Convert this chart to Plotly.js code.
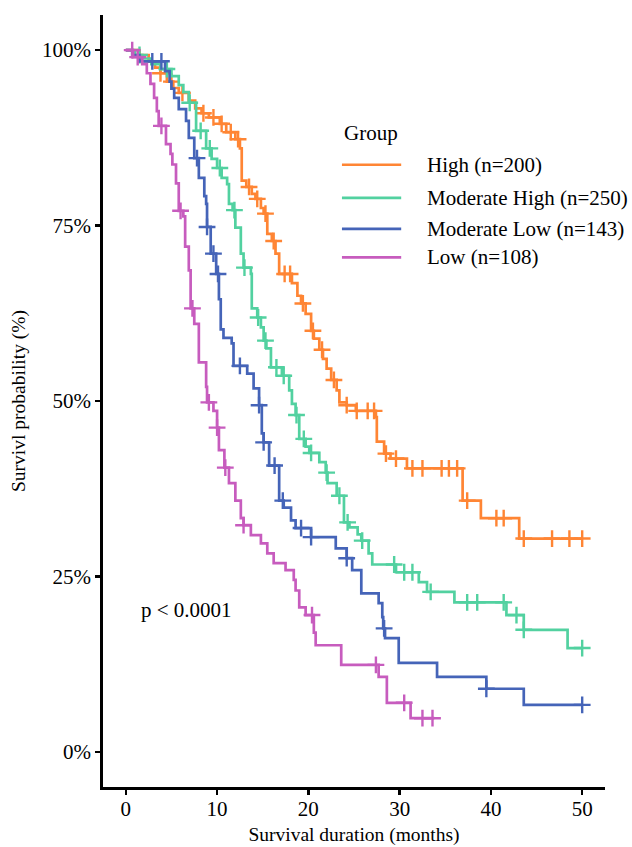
<!DOCTYPE html>
<html>
<head>
<meta charset="utf-8">
<script src="https://cdn.plot.ly/plotly-3.0.1.min.js"></script>
<style>html,body{margin:0;padding:0;background:#fff;}#chart{width:632px;height:847px;}</style>
</head>
<body>
<div id="chart"></div>
<script>
// ---- Data ----
const groupNames = ["High (n=200)", "Moderate High (n=250)", "Moderate Low (n=143)", "Low (n=108)"];
const groupColors = ["#FF8534", "#52D1A0", "#4564B8", "#C75CBE"];

// event times (months) and survival (%) after each drop
const highTimes = [0, 1.5, 2.5, 3.2, 3.8, 4.5, 5.2, 5.8, 6.9, 7.6, 8.3, 9.1, 10.3, 11.0, 12.0, 12.5, 12.7, 13.2, 13.8, 14.2, 14.8, 15.1, 15.5, 16.0, 16.4, 16.8, 18.2, 18.8, 19.2, 19.7, 20.3, 20.6, 21.2, 21.6, 22.0, 22.5, 23.1, 23.4, 24.2, 25.2, 27.4, 27.5, 28.3, 29.0, 30.8, 36.9, 38.9, 43.1];
const highSurv  = [100, 99.3, 98.4, 97.5, 96.7, 95.5, 94.6, 93.9, 92.8, 91.7, 91.0, 90.4, 89.5, 88.3, 87.3, 86.0, 81.4, 80.5, 79.5, 78.8, 77.5, 76.7, 73.8, 72.8, 71.0, 68.1, 66.8, 65.0, 63.9, 62.4, 60.0, 58.9, 57.3, 56.0, 54.6, 53.0, 51.5, 49.8, 49.4, 48.6, 47.7, 44.2, 42.5, 41.8, 40.4, 35.8, 33.3, 30.4];
const highEnd = 50;
const highCens = [3.8, 5.0, 6.2, 8.5, 9.6, 10.5, 11.5, 12.3, 13.5, 14.4, 15.3, 16.2, 17.4, 18.0, 19.4, 20.5, 21.5, 22.8, 24.2, 25.3, 26.5, 27.2, 28.5, 29.6, 31.4, 32.5, 34.6, 35.4, 36.3, 37.4, 40.6, 41.4, 43.6, 46.7, 48.6, 50];

const modHighTimes = [0, 1.0, 1.8, 2.8, 3.8, 5.0, 5.8, 6.3, 6.9, 7.7, 8.8, 9.4, 10.0, 10.5, 11.1, 11.3, 11.7, 12.0, 12.6, 12.9, 13.7, 13.8, 14.4, 14.8, 15.1, 15.4, 15.9, 17.1, 17.9, 18.2, 18.6, 19.0, 19.7, 20.1, 21.2, 21.9, 22.1, 23.1, 23.9, 24.5, 25.4, 25.8, 26.6, 27.0, 29.6, 32.1, 33.0, 36.0, 41.7, 43.6, 48.4];
const modHighSurv  = [100, 99.3, 98.8, 98.0, 97.3, 96.3, 95.0, 94.0, 92.5, 88.5, 86.0, 84.5, 83.2, 81.8, 80.9, 78.1, 77.2, 74.7, 71.0, 69.0, 68.1, 63.2, 61.9, 60.5, 58.6, 57.5, 54.8, 53.6, 51.5, 49.6, 48.0, 44.6, 43.5, 42.6, 41.3, 39.8, 38.3, 36.5, 32.7, 32.0, 31.0, 30.1, 28.3, 26.7, 25.6, 24.2, 22.8, 21.3, 19.5, 17.4, 14.8];
const modHighEnd = 50;
const modHighCens = [1.5, 4.5, 7.0, 8.2, 9.2, 10.3, 11.9, 13.0, 14.5, 15.3, 16.5, 17.3, 18.7, 19.5, 20.3, 22.0, 23.4, 24.3, 25.9, 29.4, 30.5, 31.4, 33.4, 37.4, 38.5, 41.4, 42.8, 43.6, 50];

const modLowTimes = [0, 0.7, 1.5, 4.3, 4.8, 5.0, 5.3, 5.8, 6.6, 6.9, 7.5, 8.0, 8.6, 8.8, 8.9, 9.3, 9.9, 10.2, 10.4, 10.7, 11.6, 11.8, 13.3, 14.0, 14.6, 14.9, 15.1, 15.7, 16.8, 17.3, 18.1, 18.6, 20.3, 23.0, 24.2, 24.8, 25.8, 27.7, 28.1, 28.2, 28.4, 29.9, 34.1, 39.5, 43.6];
const modLowSurv  = [100, 99.3, 98.4, 97.0, 95.5, 94.5, 93.2, 91.6, 89.9, 87.5, 84.6, 81.8, 79.2, 78.1, 74.8, 71.0, 68.1, 64.5, 60.2, 59.0, 58.2, 55.0, 53.9, 51.8, 49.4, 45.4, 44.1, 40.8, 35.8, 34.8, 33.0, 31.9, 30.6, 29.0, 27.6, 25.9, 22.6, 21.2, 19.2, 17.6, 16.2, 12.7, 10.7, 9.0, 6.7];
const modLowEnd = 50;
const modLowCens = [2.9, 3.9, 7.8, 8.9, 9.6, 10.1, 12.5, 14.6, 15.1, 16.3, 17.2, 19.2, 20.3, 24.2, 28.3, 39.5, 50];

const lowTimes = [0, 0.8, 1.8, 2.3, 2.7, 3.1, 3.4, 3.6, 4.4, 4.9, 5.1, 5.5, 5.8, 6.3, 6.5, 6.9, 7.1, 7.5, 8.0, 8.8, 8.9, 9.6, 10.0, 10.2, 10.8, 11.3, 12.0, 12.6, 12.9, 13.7, 14.8, 15.5, 16.2, 17.5, 18.4, 18.6, 19.0, 19.7, 20.6, 20.8, 23.6, 27.7, 28.6, 31.2];
const lowSurv  = [100, 99.0, 98.0, 96.7, 95.2, 93.2, 91.3, 89.2, 86.6, 85.2, 83.7, 81.0, 77.1, 76.3, 72.0, 68.6, 63.2, 61.0, 55.5, 52.0, 49.8, 48.6, 46.2, 43.0, 40.5, 38.3, 35.8, 33.3, 32.3, 30.9, 29.7, 28.3, 26.9, 25.9, 24.5, 23.0, 20.6, 19.5, 17.0, 15.2, 12.4, 10.7, 7.0, 4.8];
const lowEnd = 33.8;
const lowCens = [0.7, 1.3, 3.9, 6.0, 7.3, 9.1, 10.0, 10.9, 12.9, 20.4, 27.4, 30.5, 32.5, 33.6];

const xTicks = [0, 10, 20, 30, 40, 50];
const yTicks = [0, 25, 50, 75, 100];
const yTickLabels = ["0%", "25%", "50%", "75%", "100%"];
const pText = "p < 0.0001";

// ---- Build traces ----
const groups = [
  {t: highTimes, s: highSurv, end: highEnd, c: highCens},
  {t: modHighTimes, s: modHighSurv, end: modHighEnd, c: modHighCens},
  {t: modLowTimes, s: modLowSurv, end: modLowEnd, c: modLowCens},
  {t: lowTimes, s: lowSurv, end: lowEnd, c: lowCens}
];
function survAt(g, x) {
  let v = g.s[0];
  for (let i = 0; i < g.t.length; i++) { if (g.t[i] <= x) v = g.s[i]; }
  return v;
}
const FONT = "'Liberation Serif', 'Times New Roman', serif";
const TXT = 21;
const TITLE = 19.5;
const traces = [];
groups.forEach((g, i) => {
  traces.push({
    x: g.t.concat([g.end]), y: g.s.concat([g.s[g.s.length - 1]]),
    mode: "lines", line: {shape: "hv", color: groupColors[i], width: 2.7},
    showlegend: false, hoverinfo: "skip"
  });
  traces.push({
    x: g.c, y: g.c.map(x => survAt(g, x)),
    mode: "markers",
    marker: {symbol: "cross-thin", size: 12, color: groupColors[i], line: {color: groupColors[i], width: 2.4}},
    showlegend: false, hoverinfo: "skip"
  });
});

// custom legend (paper coordinates)
const shapes = [];
const annotations = [];
const legY = [0.806, 0.763, 0.723, 0.686];
annotations.push({xref: "paper", yref: "paper", x: 0.476, y: 0.847, xanchor: "left", yanchor: "middle",
  text: "Group", showarrow: false, font: {family: FONT, size: TXT, color: "#000"}});
groupNames.forEach((n, i) => {
  shapes.push({type: "line", xref: "paper", yref: "paper", x0: 0.476, x1: 0.594, y0: legY[i], y1: legY[i],
    line: {color: groupColors[i], width: 2.7}});
  annotations.push({xref: "paper", yref: "paper", x: 0.642, y: legY[i], xanchor: "left", yanchor: "middle",
    text: n, showarrow: false, font: {family: FONT, size: TXT, color: "#000"}});
});
annotations.push({xref: "x", yref: "y", x: 6.7, y: 20.2, xanchor: "center", yanchor: "middle",
  text: pText, showarrow: false, font: {family: FONT, size: TXT, color: "#000"}});

const layout = {
  width: 632, height: 847,
  margin: {l: 103, r: 27, t: 15, b: 60, pad: 0},
  paper_bgcolor: "#fff", plot_bgcolor: "#fff",
  font: {family: FONT, size: TXT, color: "#000"},
  showlegend: false,
  xaxis: {
    range: [-2.5, 52.5], tickvals: xTicks, ticks: "outside", ticklen: 5, tickwidth: 2.4, tickcolor: "#000",
    showline: true, linewidth: 2.8, linecolor: "#000", showgrid: false, zeroline: false,
    ticklabelstandoff: -4,
    tickfont: {family: FONT, size: TXT, color: "#000"},
    title: {text: "Survival duration (months)", font: {family: FONT, size: TITLE, color: "#000"}, standoff: 8}
  },
  yaxis: {
    range: [-5, 105], tickvals: yTicks, ticktext: yTickLabels, ticks: "outside", ticklen: 5, tickwidth: 2.4, tickcolor: "#000",
    showline: true, linewidth: 2.8, linecolor: "#000", showgrid: false, zeroline: false,
    tickfont: {family: FONT, size: TXT, color: "#000"},
    title: {text: "Survivl probability (%)", font: {family: FONT, size: TITLE, color: "#000"}, standoff: 12}
  },
  shapes: shapes,
  annotations: annotations
};
Plotly.newPlot("chart", traces, layout, {displayModeBar: false, staticPlot: true});
</script>
</body>
</html>
